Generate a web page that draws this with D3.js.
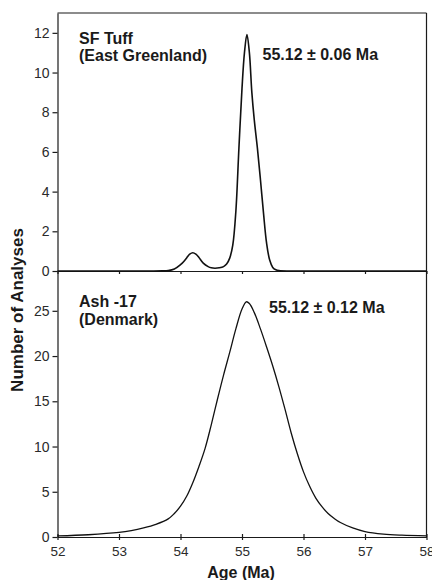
<!DOCTYPE html>
<html lang="en">
<head>
    <meta charset="UTF-8">
    <script src="https://d3js.org/d3.v7.min.js"></script>
    <title>Age probability plots</title>
    <style>
        body {
            margin: 0;
            background: white;
        }

        svg {
            display: block;
            font-family: "Liberation Sans", Arial, sans-serif;
        }

        .axis path,
        .axis line {
            stroke: #1a1a1a;
            stroke-width: 1.2px;
        }

        .axis text {
            fill: #2a2a2a;
            font-size: 14px;
        }

        .label {
            font-weight: bold;
            font-size: 16px;
            fill: #1a1a1a;
        }
    </style>
</head>
<body>
<div class="chart"></div>

<script>
    /*------------------- Data --------------------*/
    const ageTicks = [52, 53, 54, 55, 56, 57, 58];
    const sfTicks = [0, 2, 4, 6, 8, 10, 12];
    const ashTicks = [0, 5, 10, 15, 20, 25];

    // SF Tuff (East Greenland)
    const sfAge = [52.0, 53.5, 53.7, 53.8, 53.9, 54.0, 54.05, 54.1, 54.15, 54.2, 54.25, 54.3, 54.37, 54.45,
        54.5, 54.56, 54.63, 54.7, 54.75, 54.8, 54.85, 54.9, 54.95, 55.0, 55.04, 55.08,
        55.12, 55.16, 55.2, 55.25, 55.3, 55.35, 55.4, 55.45, 55.5, 55.55, 55.6, 55.8, 58.0];
    const sfCount = [0, 0, 0.005, 0.02, 0.1, 0.32, 0.47, 0.66, 0.85, 0.92, 0.85, 0.68, 0.40, 0.22,
        0.16, 0.14, 0.16, 0.22, 0.35, 0.65, 1.3, 3.0, 6.2, 9.2, 11.0, 11.92,
        11.0, 9.0, 7.6, 6.2, 4.6, 2.9, 1.4, 0.55, 0.18, 0.06, 0.02, 0, 0];

    // Ash -17 (Denmark)
    const ashAge = [52.0, 52.5, 53.0, 53.2, 53.4, 53.6, 53.8, 53.9, 54.0, 54.1, 54.2, 54.3, 54.4,
        54.5, 54.6, 54.7, 54.8, 54.9, 55.0, 55.07, 55.12, 55.2, 55.3, 55.4, 55.5, 55.6, 55.7,
        55.8, 55.9, 56.0, 56.1, 56.2, 56.3, 56.4, 56.5, 56.6, 56.8, 57.0, 57.3, 57.6, 58.0];
    const ashCount = [0.12, 0.25, 0.5, 0.7, 1.0, 1.4, 2.0, 2.6, 3.4, 4.5, 6.0, 7.8, 9.8,
        12.4, 15.2, 17.9, 20.4, 23.0, 25.2, 26.0, 25.8, 24.8, 23.0, 21.0, 18.9, 16.6, 14.1,
        11.5, 9.2, 7.2, 5.6, 4.3, 3.35, 2.6, 2.05, 1.6, 1.0, 0.6, 0.32, 0.2, 0.12];

    const sfLabel = ["SF Tuff", "(East Greenland)"];
    const sfAgeText = "55.12 ± 0.06 Ma";
    const ashLabel = ["Ash -17", "(Denmark)"];
    const ashAgeText = "55.12 ± 0.12 Ma";

    /*------------------- Layout --------------------*/
    const width = 432;
    const height = 580;
    const plotLeft = 57.5, plotRight = 426.5;
    const plotTop = 13, plotMid = 271, plotBottom = 537;

    const svg = d3.select(".chart").append("svg")
        .attr("width", width)
        .attr("height", height);

    const x = d3.scaleLinear().domain([52, 58]).range([plotLeft, plotRight]);
    const ySf = d3.scaleLinear().domain([0, 13]).range([plotMid, plotTop]);
    const yAsh = d3.scaleLinear().domain([0, 29.4]).range([plotBottom, plotMid]);

    // frame: top and right lines
    svg.append("line")
        .attr("x1", plotLeft).attr("x2", plotRight)
        .attr("y1", plotTop).attr("y2", plotTop)
        .attr("stroke", "#1a1a1a").attr("stroke-width", 1.2);
    svg.append("line")
        .attr("x1", plotRight).attr("x2", plotRight)
        .attr("y1", plotTop).attr("y2", plotBottom)
        .attr("stroke", "#1a1a1a").attr("stroke-width", 1.2);

    // y axes
    svg.append("g").attr("class", "axis")
        .attr("transform", `translate(${plotLeft},0)`)
        .call(d3.axisLeft(ySf).tickValues(sfTicks).tickSize(5).tickPadding(3).tickSizeOuter(0));
    svg.append("g").attr("class", "axis")
        .attr("transform", `translate(${plotLeft},0)`)
        .call(d3.axisLeft(yAsh).tickValues(ashTicks).tickSize(5).tickPadding(3).tickSizeOuter(0));

    // middle x axis (no labels)
    svg.append("g").attr("class", "axis")
        .attr("transform", `translate(0,${plotMid})`)
        .call(d3.axisBottom(x).tickValues(ageTicks).tickSize(3).tickSizeOuter(0).tickFormat(""));

    // bottom x axis, ticks crossing the line
    const xAxis = svg.append("g").attr("class", "axis")
        .attr("transform", `translate(0,${plotBottom})`)
        .call(d3.axisBottom(x).tickValues(ageTicks).tickFormat(d3.format("d"))
            .tickSize(3).tickPadding(6).tickSizeOuter(0));
    xAxis.selectAll(".tick line").attr("y1", -3);
    xAxis.selectAll("text").style("font-size", "13.5px");

    // curves
    const sfData = sfAge.map((a, i) => [a, sfCount[i]]);
    const ashData = ashAge.map((a, i) => [a, ashCount[i]]);
    const smooth = d3.curveCatmullRom.alpha(0.5);

    svg.append("path")
        .datum(sfData)
        .attr("fill", "none")
        .attr("stroke", "#111")
        .attr("stroke-width", 1.6)
        .attr("d", d3.line().x(d => x(d[0])).y(d => ySf(Math.max(0, d[1]))).curve(smooth));

    svg.append("path")
        .datum(ashData)
        .attr("fill", "none")
        .attr("stroke", "#111")
        .attr("stroke-width", 1.3)
        .attr("d", d3.line().x(d => x(d[0])).y(d => yAsh(d[1])).curve(smooth));

    // panel labels
    svg.append("text").attr("class", "label").attr("x", 79).attr("y", 43.5).text(sfLabel[0]);
    svg.append("text").attr("class", "label").attr("x", 79).attr("y", 61).text(sfLabel[1]);
    svg.append("text").attr("class", "label").attr("x", 262.5).attr("y", 60).text(sfAgeText);

    svg.append("text").attr("class", "label").attr("x", 79).attr("y", 306.5).text(ashLabel[0]);
    svg.append("text").attr("class", "label").attr("x", 79).attr("y", 325).text(ashLabel[1]);
    svg.append("text").attr("class", "label").attr("x", 269).attr("y", 313).text(ashAgeText);

    // axis titles
    svg.append("text")
        .attr("class", "label")
        .attr("transform", "translate(22.5,310) rotate(-90)")
        .attr("text-anchor", "middle")
        .style("font-size", "17px")
        .text("Number of Analyses");

    svg.append("text")
        .attr("class", "label")
        .attr("x", 241)
        .attr("y", 578)
        .attr("text-anchor", "middle")
        .text("Age (Ma)");
</script>
</body>
</html>
